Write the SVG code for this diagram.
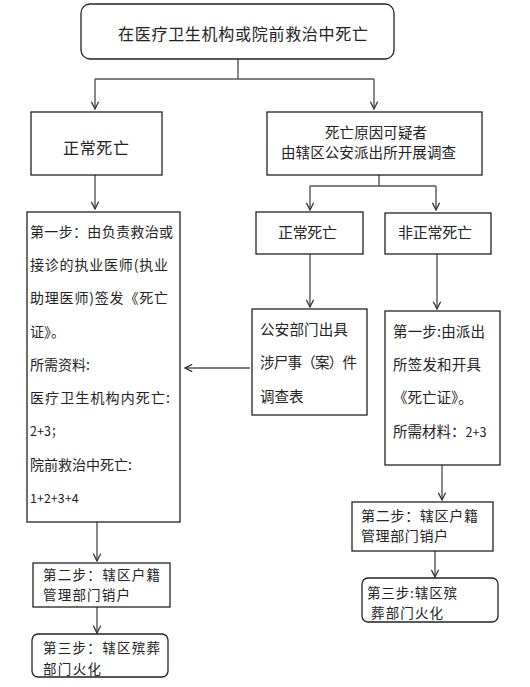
<svg xmlns="http://www.w3.org/2000/svg" width="530" height="687" viewBox="0 0 530 687">
<defs>
<marker id="arr" viewBox="0 0 10 10" refX="9" refY="5" markerWidth="9" markerHeight="9" markerUnits="userSpaceOnUse" orient="auto">
<path d="M1,1 L9,5 L1,9" fill="none" stroke="#333" stroke-width="1.4"/>
</marker>
<style>
.box{fill:#fff;stroke:#222;stroke-width:1.3}
.ln{fill:none;stroke:#555;stroke-width:1.4}
.t{font-family:"Noto Sans CJK SC","Noto Sans",sans-serif;fill:#222}
</style>
</defs>
<rect width="530" height="687" fill="#fff"/>
<g id="connectors">
<path class="ln" d="M238,59 V79 M95,79 H374"/>
<path class="ln" d="M95,79 V109" marker-end="url(#arr)"/>
<path class="ln" d="M374,79 V109" marker-end="url(#arr)"/>
<path class="ln" d="M95,175 V209" marker-end="url(#arr)"/>
<path class="ln" d="M379,175 V186 M310,186 H436"/>
<path class="ln" d="M310,186 V210" marker-end="url(#arr)"/>
<path class="ln" d="M436,186 V210" marker-end="url(#arr)"/>
<path class="ln" d="M310,254 V307" marker-end="url(#arr)"/>
<path class="ln" d="M437,254 V309" marker-end="url(#arr)"/>
<path class="ln" d="M250,368 H185" marker-end="url(#arr)"/>
<path class="ln" d="M442,465 V500" marker-end="url(#arr)"/>
<path class="ln" d="M435,551 V577" marker-end="url(#arr)"/>
<path class="ln" d="M97,522 V561" marker-end="url(#arr)"/>
<path class="ln" d="M97,607 V633" marker-end="url(#arr)"/>
</g>
<g id="top">
<rect class="box" x="81" y="4" width="313" height="55" rx="9"/>
<text class="t" x="118" y="40" font-size="16" textLength="250" lengthAdjust="spacing">在医疗卫生机构或院前救治中死亡</text>
</g>
<g id="normal-left">
<rect class="box" x="31" y="112" width="131" height="63"/>
<text class="t" x="63" y="154" font-size="16" textLength="66" lengthAdjust="spacing">正常死亡</text>
</g>
<g id="suspicious">
<rect class="box" x="267" y="112" width="215" height="63"/>
<text class="t" x="325" y="138" font-size="14.5" textLength="102" lengthAdjust="spacing">死亡原因可疑者</text>
<text class="t" x="281" y="158" font-size="14.5" textLength="175" lengthAdjust="spacing">由辖区公安派出所开展调查</text>
</g>
<g id="step1-left">
<rect class="box" x="27" y="212" width="153" height="310"/>
<g class="t" font-size="14">
<text x="30" y="237" textLength="143" lengthAdjust="spacing">第一步：由负责救治或</text>
<text x="30" y="270" textLength="138" lengthAdjust="spacing">接诊的执业医师(执业</text>
<text x="30" y="303" textLength="138" lengthAdjust="spacing">助理医师)签发《死亡</text>
<text x="30" y="337">证》。</text>
<text x="30" y="370">所需资料:</text>
<text x="30" y="403" textLength="140" lengthAdjust="spacing">医疗卫生机构内死亡:</text>
<text x="30" y="436" font-size="12.5">2+3；</text>
<text x="30" y="470">院前救治中死亡:</text>
<text x="30" y="503" font-size="12.5">1+2+3+4</text>
</g>
</g>
<g id="normal-mid">
<rect class="box" x="256" y="212" width="107" height="42"/>
<text class="t" x="278" y="238" font-size="15" textLength="59" lengthAdjust="spacing">正常死亡</text>
</g>
<g id="abnormal">
<rect class="box" x="385" y="213" width="106" height="41"/>
<text class="t" x="398" y="238" font-size="15" textLength="74" lengthAdjust="spacing">非正常死亡</text>
</g>
<g id="police-form">
<rect class="box" x="252" y="309" width="115" height="106"/>
<g class="t" font-size="14.5">
<text x="260" y="335" textLength="88" lengthAdjust="spacing">公安部门出具</text>
<text x="260" y="368" textLength="97" lengthAdjust="spacing">涉尸事（案）件</text>
<text x="260" y="402">调查表</text>
</g>
</g>
<g id="step1-right">
<rect class="box" x="385" y="311" width="115" height="154"/>
<g class="t" font-size="14.5">
<text x="393" y="337" textLength="92" lengthAdjust="spacing">第一步:由派出</text>
<text x="393" y="370" textLength="88" lengthAdjust="spacing">所签发和开具</text>
<text x="393" y="403">《死亡证》。</text>
<text x="393" y="437">所需材料：<tspan font-size="12.5">2+3</tspan></text>
</g>
</g>
<g id="step2-right">
<rect class="box" x="352" y="502" width="141" height="49"/>
<text class="t" x="361" y="521" font-size="14" textLength="117" lengthAdjust="spacing">第二步：辖区户籍</text>
<text class="t" x="361" y="541" font-size="14" textLength="87" lengthAdjust="spacing">管理部门销户</text>
</g>
<g id="step3-right">
<rect class="box" x="362" y="578" width="136" height="44" rx="6"/>
<text class="t" x="367" y="598" font-size="13.5" textLength="90" lengthAdjust="spacing">第三步:辖区殡</text>
<text class="t" x="371" y="618" font-size="13.5" textLength="72" lengthAdjust="spacing">葬部门火化</text>
</g>
<g id="step2-left">
<rect class="box" x="33" y="563" width="137" height="44"/>
<text class="t" x="43" y="580" font-size="13.5" textLength="117" lengthAdjust="spacing">第二步：辖区户籍</text>
<text class="t" x="43" y="600" font-size="13.5" textLength="87" lengthAdjust="spacing">管理部门销户</text>
</g>
<g id="step3-left">
<rect class="box" x="32" y="634" width="136" height="43" rx="6"/>
<text class="t" x="43" y="653" font-size="13.5" textLength="117" lengthAdjust="spacing">第三步：辖区殡葬</text>
<text class="t" x="43" y="674" font-size="13.5" textLength="58" lengthAdjust="spacing">部门火化</text>
</g>
</svg>
